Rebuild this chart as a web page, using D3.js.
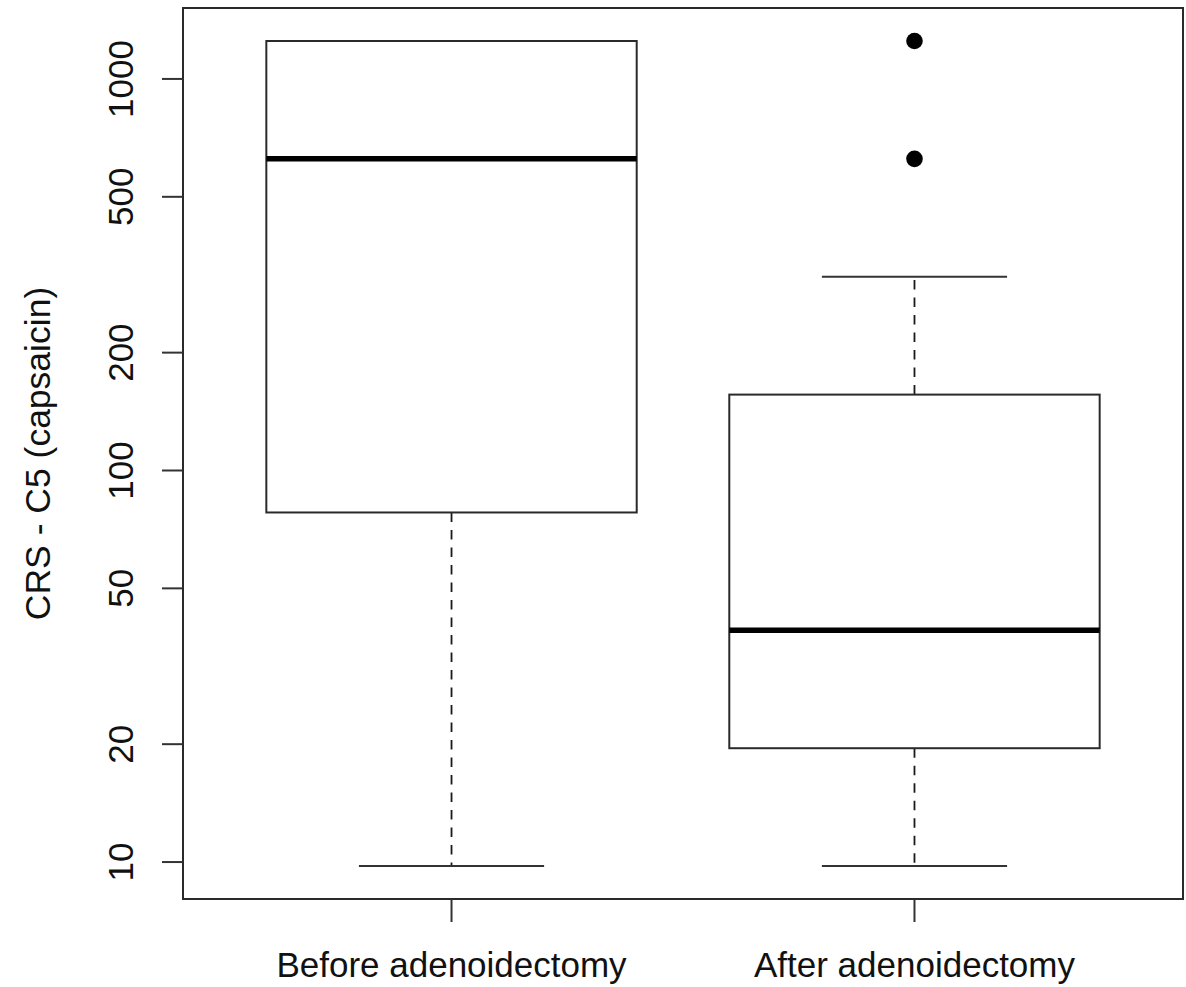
<!DOCTYPE html>
<html>
<head>
<meta charset="utf-8">
<script src="https://cdn.jsdelivr.net/npm/d3@7"></script>
<style>
  body { margin: 0; background: #fff; }
  svg { display: block; font-family: "Liberation Sans", Arial, sans-serif; }
</style>
</head>
<body>
<div id="chart"></div>
<script>
// Boxplot data (log scale)
const groups = ['Before adenoidectomy', 'After adenoidectomy'];
const whiskerLow = [9.77, 9.77];
const q1 = [78.125, 19.53];
const median = [625, 39.06];
const q3 = [1250, 156.25];
const whiskerHigh = [1250, 312.5];
const outliers = [[], [1250, 625]];
const yTicks = [10, 20, 50, 100, 200, 500, 1000];
const yLabel = 'CRS - C5 (capsaicin)';

const width = 1186, height = 987;
const plot = { left: 183, right: 1183, top: 8, bottom: 899 };

const svg = d3.select('#chart').append('svg')
    .attr('width', width)
    .attr('height', height);

// x: R style, 0.5..n+0.5 plus 4%
const x = d3.scaleLinear()
    .domain([0.42, groups.length + 0.58])
    .range([plot.left, plot.right]);

// y: log, data range extended 4% in log space
const allVals = whiskerLow.concat(whiskerHigh, outliers.flat());
const lo = Math.log10(d3.min(allVals));
const hi = Math.log10(d3.max(allVals));
const pad = (hi - lo) * 0.04;
const y = d3.scaleLog()
    .domain([Math.pow(10, lo - pad), Math.pow(10, hi + pad)])
    .range([plot.bottom, plot.top]);

const ink = '#1a1a1a';
const boxHalf = 0.4, capHalf = 0.2;

const g = svg.append('g');

groups.forEach((name, i) => {
    const c = i + 1;
    const cx = x(c);

    // whiskers (dashed)
    g.append('line')
        .attr('x1', cx).attr('x2', cx)
        .attr('y1', y(q1[i])).attr('y2', y(whiskerLow[i]))
        .attr('stroke', ink).attr('stroke-width', 1.8)
        .attr('stroke-dasharray', '9.5,8');
    if (whiskerHigh[i] > q3[i]) {
        g.append('line')
            .attr('x1', cx).attr('x2', cx)
            .attr('y1', y(q3[i])).attr('y2', y(whiskerHigh[i]))
            .attr('stroke', ink).attr('stroke-width', 1.8)
            .attr('stroke-dasharray', '9.5,8');
    }

    // caps
    [whiskerLow[i], whiskerHigh[i]].forEach(v => {
        g.append('line')
            .attr('x1', x(c - capHalf)).attr('x2', x(c + capHalf))
            .attr('y1', y(v)).attr('y2', y(v))
            .attr('stroke', '#333').attr('stroke-width', 2.2);
    });

    // box
    g.append('rect')
        .attr('x', x(c - boxHalf))
        .attr('y', y(q3[i]))
        .attr('width', x(c + boxHalf) - x(c - boxHalf))
        .attr('height', y(q1[i]) - y(q3[i]))
        .attr('fill', 'none')
        .attr('stroke', '#2a2a2a').attr('stroke-width', 2);

    // median
    g.append('line')
        .attr('x1', x(c - boxHalf)).attr('x2', x(c + boxHalf))
        .attr('y1', y(median[i])).attr('y2', y(median[i]))
        .attr('stroke', '#000').attr('stroke-width', 5.5);

    // outliers
    g.selectAll(null)
        .data(outliers[i])
        .enter().append('circle')
        .attr('cx', cx)
        .attr('cy', d => y(d))
        .attr('r', 8.3)
        .attr('fill', '#000');
});

// plot frame
svg.append('rect')
    .attr('x', plot.left).attr('y', plot.top)
    .attr('width', plot.right - plot.left)
    .attr('height', plot.bottom - plot.top)
    .attr('fill', 'none')
    .attr('stroke', '#2a2a2a').attr('stroke-width', 2);

// y axis ticks and rotated labels
const yAxis = svg.append('g');
yTicks.forEach(t => {
    yAxis.append('line')
        .attr('x1', plot.left - 21).attr('x2', plot.left)
        .attr('y1', y(t)).attr('y2', y(t))
        .attr('stroke', '#333').attr('stroke-width', 2);
    yAxis.append('text')
        .attr('transform', `translate(133,${y(t)}) rotate(-90)`)
        .attr('text-anchor', 'middle')
        .attr('font-size', 35)
        .attr('fill', '#111')
        .text(t);
});

// x axis ticks and labels
groups.forEach((name, i) => {
    const cx = x(i + 1);
    svg.append('line')
        .attr('x1', cx).attr('x2', cx)
        .attr('y1', plot.bottom).attr('y2', plot.bottom + 23)
        .attr('stroke', '#333').attr('stroke-width', 2);
    svg.append('text')
        .attr('x', cx).attr('y', 977)
        .attr('text-anchor', 'middle')
        .attr('font-size', 35)
        .attr('fill', '#111')
        .text(name);
});

// y axis title
svg.append('text')
    .attr('transform', `translate(50,${(plot.top + plot.bottom) / 2}) rotate(-90)`)
    .attr('text-anchor', 'middle')
    .attr('font-size', 35.5)
    .attr('fill', '#111')
    .text(yLabel);
</script>
</body>
</html>
